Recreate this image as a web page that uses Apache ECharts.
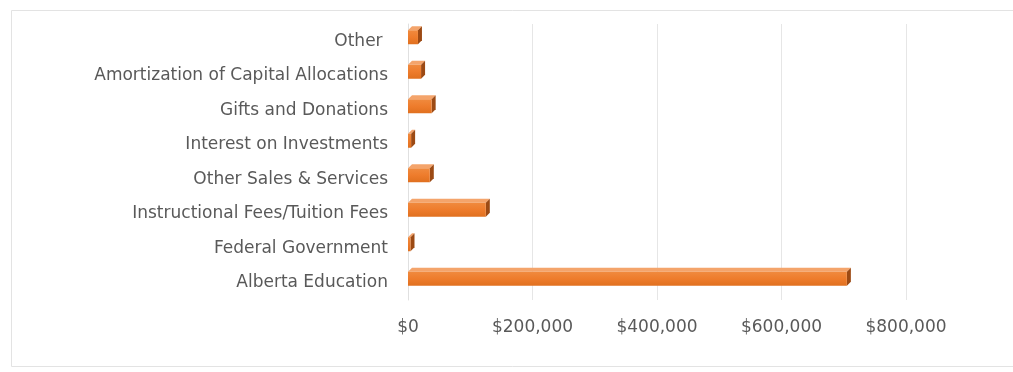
<!DOCTYPE html>
<html><head><meta charset="utf-8">
<script src="https://cdn.jsdelivr.net/npm/echarts@6/dist/echarts.min.js"></script>
<style>html,body{margin:0;padding:0;background:#fff}#c{width:1013px;height:372px}</style>
</head><body><div id="c"></div>
<script>
const categories = ["Alberta Education","Federal Government","Instructional Fees/Tuition Fees","Other Sales & Services","Interest on Investments","Gifts and Donations","Amortization of Capital Allocations","Other "];
const values = [705000, 4000, 125000, 35000, 5000, 38000, 21000, 16000];
const tickMax = 800000;
const tickStep = 200000;

const chart = echarts.init(document.getElementById('c'), null, {renderer:'canvas'});
const font = '"DejaVu Sans", "Liberation Sans", sans-serif';
function renderBar(params, api){
  const cat = api.value(0), v = api.value(1);
  const p0 = api.coord([0, cat]);
  const p1 = api.coord([v, cat]);
  const h = 14, d = 4;
  const x0 = p0[0], x1 = p1[0], yc = p0[1] - 4;
  const yt = yc - h/2, yb = yc + h/2;
  return {type:'group', children:[
    {type:'polygon', shape:{points:[[x0,yt],[x0+d,yt-d],[x1+d,yt-d],[x1,yt]]}, style:{fill:'#F4A46B'}},
    {type:'polygon', shape:{points:[[x1,yt],[x1+d,yt-d],[x1+d,yb-d],[x1,yb]]}, style:{fill:'#9C4A14'}},
    {type:'rect', shape:{x:x0, y:yt, width:Math.max(x1-x0,1), height:h}, style:{fill:new echarts.graphic.LinearGradient(0,0,0,1,[{offset:0,color:'#F08A3E'},{offset:0.5,color:'#EE7C2C'},{offset:1,color:'#E0701F'}])}}
  ]};
}
chart.setOption({
  animation:false,
  graphic:[{type:'rect', shape:{x:11.5,y:10.5,width:1010,height:356}, style:{fill:'none', stroke:'#E3E3E3', lineWidth:1}}],
  grid:{left:408, right:107, top:24, bottom:72},
  xAxis:{type:'value', min:0, max:tickMax, interval:tickStep,
    axisLine:{show:false}, axisTick:{show:false},
    splitLine:{show:true, lineStyle:{color:'#E6E6E6', width:1}},
    axisLabel:{color:'#595959', fontFamily:font, fontSize:17, margin:19,
      formatter:v=>'$'+v.toLocaleString('en-US')}},
  yAxis:{type:'category', data:categories,
    axisLine:{show:true, lineStyle:{color:'#E0E0E0'}}, axisTick:{show:false},
    axisLabel:{color:'#595959', fontFamily:font, fontSize:17, margin:20}},
  series:[{type:'custom', renderItem:renderBar, encode:{x:1,y:0},
    data:values.map((v,i)=>[i,v])}]
});
</script></body></html>
